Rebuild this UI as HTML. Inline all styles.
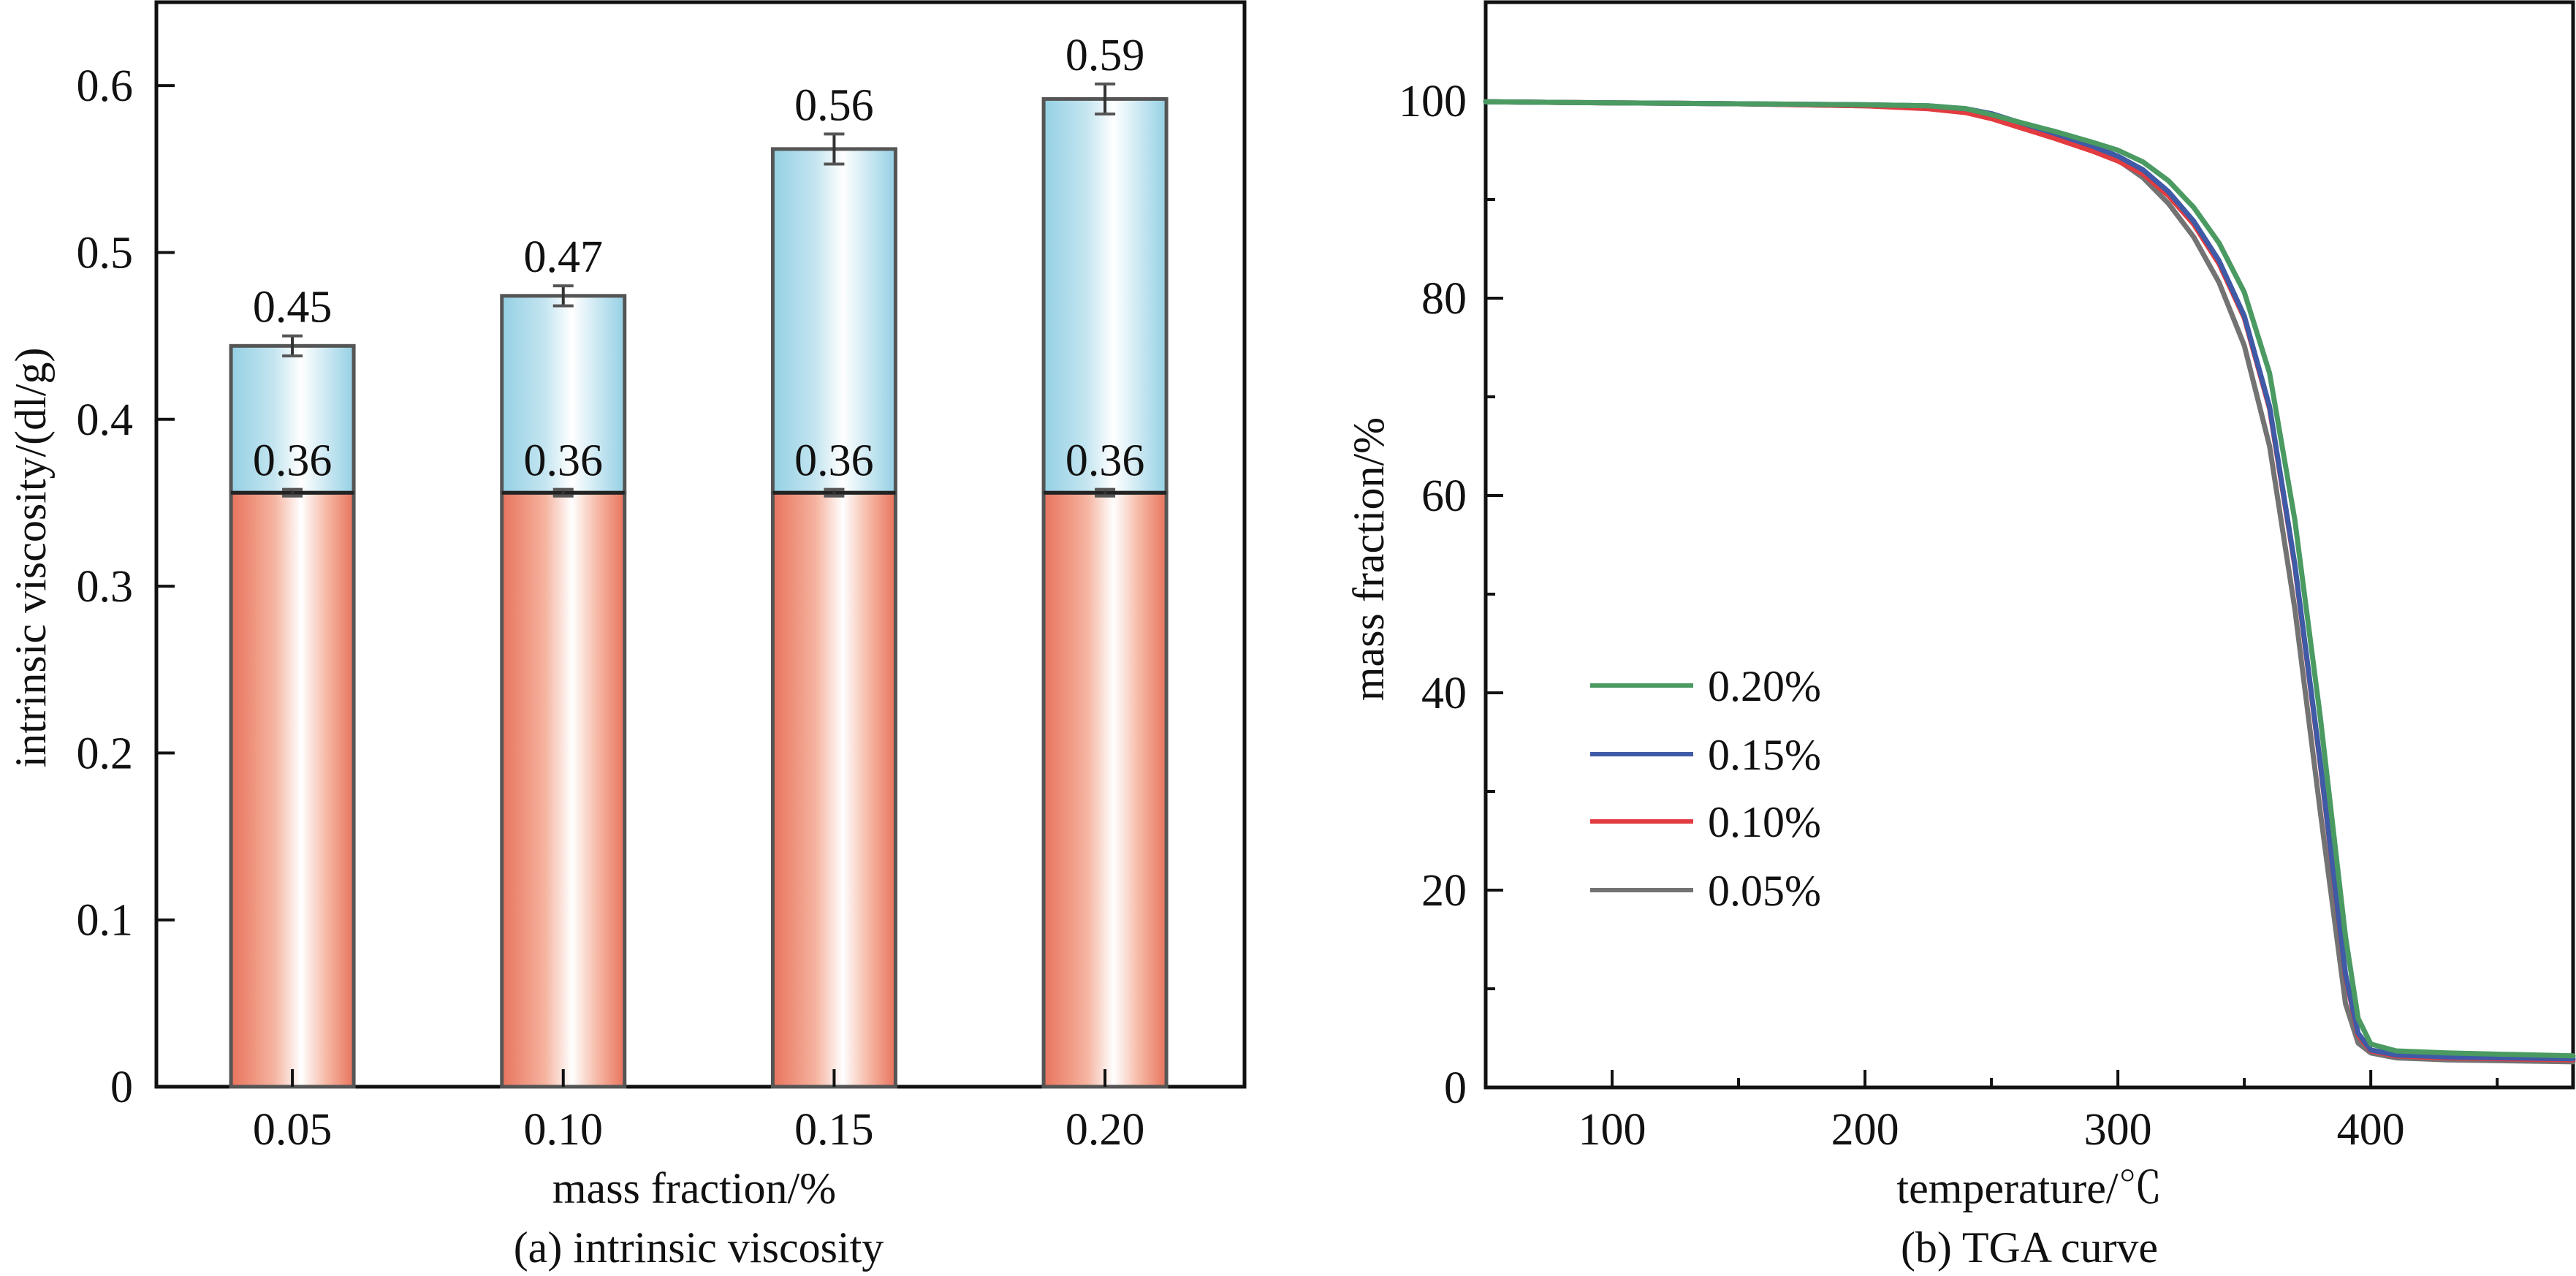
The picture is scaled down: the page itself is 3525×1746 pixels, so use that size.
<!DOCTYPE html>
<html><head><meta charset="utf-8"><style>
html,body{margin:0;padding:0;background:#fff;}
svg{display:block;}
text{font-family:"Liberation Serif","Noto Serif CJK SC",serif;fill:#111;}
</style></head><body>
<svg id="fig" width="3525" height="1746" viewBox="0 0 3525 1746" xmlns="http://www.w3.org/2000/svg">
<defs>
<linearGradient id="gRed" x1="0" x2="1" y1="0" y2="0">
<stop offset="0" stop-color="#e8735c"/><stop offset="0.35" stop-color="#f5b39f"/><stop offset="0.57" stop-color="#ffffff"/><stop offset="0.78" stop-color="#f6b8a5"/><stop offset="1" stop-color="#e8735c"/>
</linearGradient>
<linearGradient id="gBlue" x1="0" x2="1" y1="0" y2="0">
<stop offset="0" stop-color="#94d0e4"/><stop offset="0.35" stop-color="#c4e5f0"/><stop offset="0.57" stop-color="#ffffff"/><stop offset="0.8" stop-color="#c6e6f1"/><stop offset="1" stop-color="#94d0e4"/>
</linearGradient>
</defs>
<g id="left"></g>
<g id="right"></g>
</svg>
<script>
// ---- Chart (a) data ----
const categories = ["0.05","0.10","0.15","0.20"];
const baseValues = [0.356,0.356,0.356,0.356];
const baseErrors = [0.002,0.002,0.002,0.002];
const baseLabels = ["0.36","0.36","0.36","0.36"];
const totalValues = [0.444,0.474,0.562,0.592];
const totalErrors = [0.006,0.006,0.009,0.009];
const totalLabels = ["0.45","0.47","0.56","0.59"];
const yTicksA = [0,0.1,0.2,0.3,0.4,0.5,0.6];
const yTickLabelsA = ["0","0.1","0.2","0.3","0.4","0.5","0.6"];

// ---- Chart (b) data ----
const temps = [50,100,150,200,225,240,250,260,275,290,300,310,320,330,340,350,360,370,380,390,395,400,410,430,480];
const series020 = [99.9,99.8,99.7,99.6,99.5,99.2,98.6,97.9,96.9,95.8,95.0,93.8,91.9,89.2,85.6,80.6,72.4,57.5,37.6,15.3,7.0,4.4,3.7,3.5,3.2];
const series015 = [99.9,99.8,99.7,99.6,99.5,99.2,98.7,97.9,96.7,95.4,94.4,93.0,90.8,87.8,83.8,78.2,69.0,53.0,33.0,11.5,5.5,3.8,3.3,3.1,2.9];
const series010 = [99.9,99.8,99.7,99.5,99.2,98.8,98.2,97.4,96.2,94.9,93.9,92.6,90.4,87.5,83.5,78.0,68.8,52.8,32.8,11.3,5.3,3.7,3.2,3.0,2.8];
const series005 = [99.9,99.8,99.7,99.5,99.3,99.0,98.5,97.7,96.4,95.0,94.0,92.2,89.6,86.2,81.6,75.2,65.0,48.5,28.0,8.5,4.5,3.5,3.0,2.8,2.6];
const seriesNames = ["0.20%","0.15%","0.10%","0.05%"];
const xTicksB = [100,200,300,400];
const yTicksB = [0,20,40,60,80,100];

const NS="http://www.w3.org/2000/svg";
function mk(parent,tag,attrs,txt){const e=document.createElementNS(NS,tag);for(const k in attrs)e.setAttribute(k,attrs[k]);if(txt!==undefined)e.textContent=txt;parent.appendChild(e);return e;}

// ===== Chart A =====
(function(){
const g=document.getElementById('left');
const L=214,R=1703,T=3,B=1487;
const yA=v=>B-(v/0.65)*(B-T);
const band=(R-L)/4.017;
const xA=i=>L+(i+0.502)*band;
const bw=168;
mk(g,'rect',{x:L,y:T,width:R-L,height:B-T,fill:'none',stroke:'#111','stroke-width':5});
categories.forEach((c,i)=>{
  const cx=xA(i);
  let r=mk(g,'rect',{x:cx-bw/2,y:yA(baseValues[i]),width:bw,height:yA(0)-yA(baseValues[i]),fill:'url(#gRed)',stroke:'#555','stroke-width':5});
  
  
  r=mk(g,'rect',{x:cx-bw/2,y:yA(totalValues[i]),width:bw,height:yA(baseValues[i])-yA(totalValues[i]),fill:'url(#gBlue)',stroke:'#555','stroke-width':5});
  
  
  mk(g,'line',{x1:cx-bw/2,x2:cx+bw/2,y1:yA(baseValues[i]),y2:yA(baseValues[i]),stroke:'#222','stroke-width':5});
  [[baseValues[i],baseErrors[i],baseLabels[i],'base'],[totalValues[i],totalErrors[i],totalLabels[i],'total']].forEach(([v,e,lab,k])=>{
    const eg=mk(g,'g',{});
    
    
    mk(eg,'line',{x1:cx,x2:cx,y1:yA(v+e),y2:yA(v-e),stroke:'#333','stroke-width':4});
    mk(eg,'line',{x1:cx-14,x2:cx+14,y1:yA(v+e),y2:yA(v+e),stroke:'#555','stroke-width':4});
    mk(eg,'line',{x1:cx-14,x2:cx+14,y1:yA(v-e),y2:yA(v-e),stroke:'#555','stroke-width':4});
    const t=mk(g,'text',{x:cx,y:yA(v+e)-19,'font-size':62,'text-anchor':'middle'},lab);
    
    
  });
  mk(g,'line',{x1:cx,x2:cx,y1:B,y2:B-24,stroke:'#111','stroke-width':4});
  const t=mk(g,'text',{x:cx,y:1566,'font-size':62,'text-anchor':'middle'},c);
  
  
});
yTicksA.forEach((v,i)=>{
  mk(g,'line',{x1:L,x2:L+25,y1:yA(v),y2:yA(v),stroke:'#111','stroke-width':4});
  const t=mk(g,'text',{x:182,y:yA(v)+21,'font-size':62,'text-anchor':'end'},yTickLabelsA[i]);
  
  
});
let t=mk(g,'text',{x:950,y:1646,'font-size':60,'text-anchor':'middle'},'mass fraction/%');


t=mk(g,'text',{x:956,y:1727,'font-size':60,'text-anchor':'middle'},'(a) intrinsic viscosity');


t=mk(g,'text',{x:0,y:0,'font-size':60,'text-anchor':'middle',transform:'translate(62,763) rotate(-90)'},'intrinsic viscosity/(dl/g)');


})();

// ===== Chart B =====
(function(){
const g=document.getElementById('right');
const L=2033,R=3521,T=3,B=1488;
const xB=v=>L+(v-50)/(480-50)*(R-L);
const yB=v=>B-(v/110)*(B-T);
mk(g,'rect',{x:L,y:T,width:R-L,height:B-T,fill:'none',stroke:'#111','stroke-width':5});
for(let v=50;v<=480;v+=50){
  const major=v%100===0;
  mk(g,'line',{x1:xB(v),x2:xB(v),y1:B,y2:B-(major?24:13),stroke:'#111','stroke-width':4});
}
xTicksB.forEach(v=>{
  const t=mk(g,'text',{x:xB(v),y:1566,'font-size':62,'text-anchor':'middle'},String(v));
  
  
});
for(let v=10;v<=100;v+=10){
  const major=v%20===0;
  mk(g,'line',{x1:L,x2:L+(major?24:13),y1:yB(v),y2:yB(v),stroke:'#111','stroke-width':4});
}
yTicksB.forEach(v=>{
  const t=mk(g,'text',{x:2007,y:yB(v)+21,'font-size':62,'text-anchor':'end'},String(v));
  
  
});
const all=[series020,series015,series010,series005];
const colors=['#4a9a62','#3f5aa6','#e23b40','#737373'];
const order=[3,2,1,0];
order.forEach(k=>{
  const pts=temps.map((tv,i)=>xB(tv).toFixed(1)+','+yB(all[k][i]).toFixed(1)).join(' ');
  const p=mk(g,'polyline',{points:pts,fill:'none',stroke:colors[k],'stroke-width':7,'stroke-linejoin':'round','stroke-linecap':'round'});
  
  
});
const ly=[938,1032,1124,1218];
seriesNames.forEach((n,k)=>{
  const lg=mk(g,'g',{});
  
  
  mk(lg,'line',{x1:2176,x2:2317,y1:ly[k],y2:ly[k],stroke:colors[k],'stroke-width':6});
  mk(lg,'text',{x:2337,y:ly[k]+21,'font-size':60},n);
});
let t=mk(g,'text',{x:2777,y:1646,'font-size':60,'text-anchor':'middle'},'temperature/℃');


t=mk(g,'text',{x:2777,y:1727,'font-size':60,'text-anchor':'middle'},'(b) TGA curve');


t=mk(g,'text',{x:0,y:0,'font-size':60,'text-anchor':'middle',transform:'translate(1893,765) rotate(-90)'},'mass fraction/%');


})();
</script>
</body></html>
